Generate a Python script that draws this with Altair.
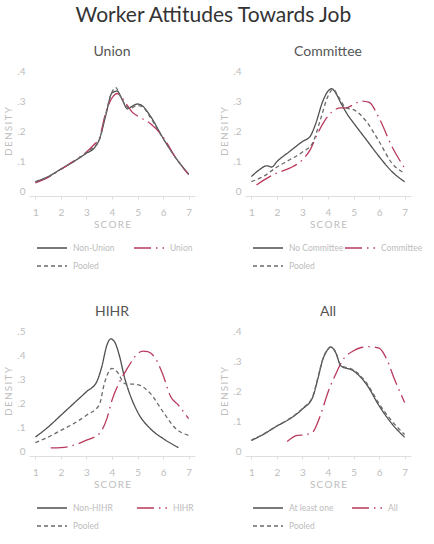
import altair as alt
import pandas as pd

# ---------------- data ----------------
score_ticks = [1, 2, 3, 4, 5, 6, 7]

# Union panel
union_a_name = "Non-Union"
union_a_x = [1, 1.5, 2, 2.5, 3, 3.3, 3.5, 3.75, 4, 4.2, 4.4, 4.6, 4.8, 5, 5.2, 5.5, 6, 6.5, 7]
union_a_y = [.031, .048, .073, .098, .126, .143, .171, .25, .327, .333, .305, .274, .283, .29, .283, .25, .176, .11, .056]
union_b_name = "Union"
union_b_x = [1, 1.5, 2, 2.5, 3, 3.3, 3.5, 3.75, 4, 4.2, 4.4, 4.6, 4.8, 5, 5.5, 6, 6.5, 7]
union_b_y = [.027, .045, .072, .1, .13, .155, .175, .26, .31, .325, .31, .285, .262, .25, .225, .18, .11, .055]
union_p_x = [1, 1.5, 2, 2.5, 3, 3.5, 3.75, 4, 4.15, 4.3, 4.5, 4.7, 5, 5.2, 5.5, 6, 6.5, 7]
union_p_y = [.03, .047, .073, .098, .128, .17, .255, .33, .345, .32, .29, .275, .285, .28, .245, .175, .11, .056]

# Committee panel
comm_a_name = "No Committee"
comm_a_x = [1, 1.3, 1.6, 1.8, 2, 2.5, 3, 3.3, 3.5, 3.8, 4, 4.15, 4.3, 4.5, 4.8, 5, 5.5, 6, 6.5, 7]
comm_a_y = [.048, .07, .084, .08, .098, .132, .165, .182, .22, .3, .333, .341, .327, .294, .25, .227, .171, .115, .065, .031]
comm_b_name = "Committee"
comm_b_x = [1.2, 1.5, 2, 2.5, 3, 3.3, 3.6, 4, 4.5, 4.7, 5, 5.3, 5.6, 6, 6.5, 7]
comm_b_y = [.02, .037, .06, .076, .104, .137, .193, .25, .277, .277, .288, .3, .296, .243, .149, .076]
comm_p_x = [1, 1.5, 2, 2.5, 3, 3.4, 3.7, 4, 4.2, 4.4, 4.7, 5, 5.5, 6, 6.5, 7]
comm_p_y = [.031, .05, .08, .104, .13, .16, .237, .316, .339, .316, .277, .271, .232, .165, .093, .059]

# HIHR panel
hihr_a_name = "Non-HIHR"
hihr_a_x = [1, 1.5, 2, 2.5, 3, 3.4, 3.6, 3.8, 3.95, 4.1, 4.3, 4.5, 4.6, 5, 5.5, 6, 6.6]
hihr_a_y = [.058, .1, .149, .198, .247, .288, .351, .441, .467, .455, .393, .302, .267, .163, .093, .052, .014]
hihr_b_name = "HIHR"
hihr_b_x = [1.6, 2, 2.5, 3, 3.5, 3.8, 4, 4.3, 4.6, 4.9, 5.2, 5.4, 5.7, 6, 6.3, 6.6, 7]
hihr_b_y = [.013, .014, .024, .045, .072, .135, .212, .288, .344, .393, .416, .414, .386, .316, .226, .191, .135]
hihr_p_x = [1, 1.5, 2, 2.5, 3, 3.5, 3.7, 4, 4.2, 4.5, 5, 5.5, 6, 6.5, 7]
hihr_p_y = [.035, .058, .086, .114, .149, .191, .281, .344, .33, .281, .277, .24, .163, .093, .065]

# All panel
all_a_name = "At least one"
all_a_x = [1, 1.5, 2, 2.5, 3, 3.4, 3.6, 3.8, 4, 4.1, 4.3, 4.5, 5, 5.5, 6, 6.5, 7]
all_a_y = [.035, .057, .083, .107, .14, .179, .24, .306, .339, .347, .328, .284, .267, .223, .151, .091, .046]
all_b_name = "All"
all_b_x = [2.4, 2.8, 3.1, 3.4, 3.7, 4, 4.3, 4.6, 5, 5.3, 5.6, 6, 6.3, 6.6, 7]
all_b_y = [.032, .052, .054, .063, .118, .196, .256, .306, .334, .345, .348, .343, .306, .24, .162]
all_p_x = [1, 1.5, 2, 2.5, 3, 3.4, 3.6, 3.8, 4, 4.1, 4.3, 4.5, 5, 5.5, 6, 6.5, 7]
all_p_y = [.036, .058, .084, .108, .142, .182, .243, .308, .34, .347, .33, .286, .27, .228, .158, .1, .055]

pooled_name = "Pooled"

# ---------------- styling ----------------
FONT = "Lato"
SOLID = "#4f4f4f"
RED = "#b8395c"
DASH = "#6a6a6a"
TXT_GREY = "#bdbdbd"


def make_df(series):
    rows = []
    for name, xs, ys in series:
        for x, y in zip(xs, ys):
            rows.append({"series": name, "score": x, "density": y})
    return pd.DataFrame(rows)


def panel(title, a_name, ax, ay, b_name, bx, by, px, py, ymax, colpad):
    df = make_df([(a_name, ax, ay), (b_name, bx, by), (pooled_name, px, py)])
    order = [a_name, b_name, pooled_name]
    leg = dict(
        title=None,
        orient="none",
        legendX=7,
        legendY=172,
        direction="horizontal",
        columns=2,
        symbolType="stroke",
        symbolSize=900,
        symbolStrokeWidth=1.3,
        clipHeight=10,
        labelFont=FONT,
        labelFontSize=8.5,
        labelColor=TXT_GREY,
        labelOffset=5,
        columnPadding=colpad,
        rowPadding=8,
    )
    yticks = [round(v * 0.1, 1) for v in range(0, int(round(ymax * 10)) + 1)]
    return (
        alt.Chart(df, title=alt.TitleParams(title, font=FONT, fontSize=14, fontWeight="normal",
                                            color="#555555", offset=7))
        .mark_line(strokeWidth=1.3, interpolate="monotone")
        .encode(
            x=alt.X("score:Q",
                    scale=alt.Scale(domain=[0.75, 7.25], nice=False, zero=False),
                    axis=alt.Axis(values=score_ticks, title="S\u2009C\u2009O\u2009R\u2009E", grid=False,
                                  offset=5, domainColor="#dddddd", tickColor="#dddddd", tickSize=3,
                                  labelFont=FONT, labelFontSize=10, labelColor=TXT_GREY, labelPadding=8,
                                  titleFont=FONT, titleFontSize=10, titleFontWeight="normal",
                                  titleColor=TXT_GREY, titlePadding=2)),
            y=alt.Y("density:Q",
                    scale=alt.Scale(domain=[0, ymax], nice=False),
                    axis=alt.Axis(values=yticks, title="D\u2009E\u2009N\u2009S\u2009I\u2009T\u2009Y", grid=False,
                                  domain=False, ticks=False,
                                  labelExpr="datum.value == 0 ? '0' : replace(format(datum.value, '.1f'), '0.', '.')",
                                  labelFont=FONT, labelFontSize=10, labelColor=TXT_GREY, labelPadding=4,
                                  titleFont=FONT, titleFontSize=10, titleFontWeight="normal",
                                  titleColor=TXT_GREY, titlePadding=3)),
            color=alt.Color("series:N", sort=order,
                            scale=alt.Scale(domain=order, range=[SOLID, RED, DASH]),
                            legend=alt.Legend(**leg)),
            strokeDash=alt.StrokeDash("series:N", sort=order,
                                      scale=alt.Scale(domain=order, range=[[1, 0], [17, 5, 1.5, 5], [4, 3]]),
                                      legend=alt.Legend(**leg)),
            detail="series:N",
        )
        .properties(width=166, height=120)
    )


p1 = panel("Union", union_a_name, union_a_x, union_a_y, union_b_name, union_b_x, union_b_y,
           union_p_x, union_p_y, 0.4, 18)
p2 = panel("Committee", comm_a_name, comm_a_x, comm_a_y, comm_b_name, comm_b_x, comm_b_y,
           comm_p_x, comm_p_y, 0.4, -3)
p3 = panel("HIHR", hihr_a_name, hihr_a_x, hihr_a_y, hihr_b_name, hihr_b_x, hihr_b_y,
           hihr_p_x, hihr_p_y, 0.5, 23)
p4 = panel("All", all_a_name, all_a_x, all_a_y, all_b_name, all_b_x, all_b_y,
           all_p_x, all_p_y, 0.4, 17)

row1 = alt.hconcat(p1, p2, spacing=24).resolve_scale(color="independent", strokeDash="independent")
row2 = alt.hconcat(p3, p4, spacing=24).resolve_scale(color="independent", strokeDash="independent")

chart = (
    alt.vconcat(row1, row2, spacing=34,
                title=alt.TitleParams("Worker Attitudes Towards Job", font=FONT, fontSize=21,
                                      fontWeight="normal", color="#333333", anchor="middle", offset=19))
    .resolve_scale(color="independent", strokeDash="independent")
    .properties(background="white", padding={"left": 3, "top": 5, "right": 4, "bottom": 4})
    .configure_view(stroke=None)
)

chart.save("out.html", embed_options={"renderer": "svg", "actions": False})
